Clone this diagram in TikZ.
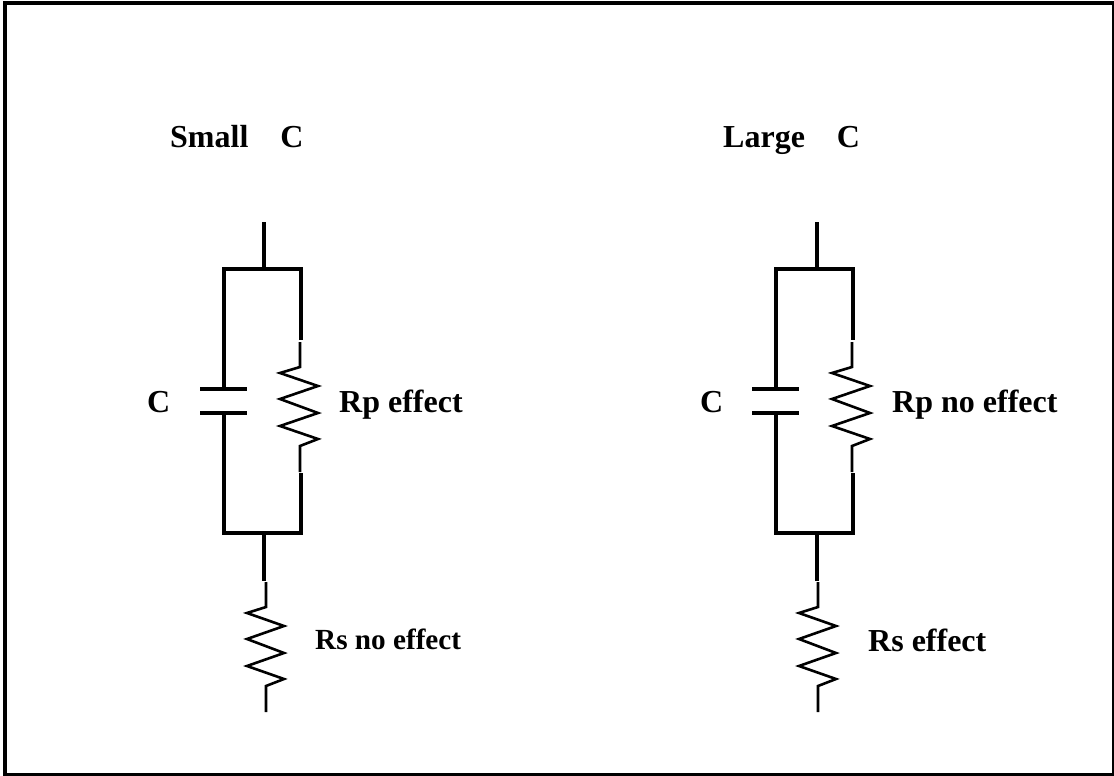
\documentclass[tikz,border=0pt]{standalone}
\usepackage{fontspec}
\setmainfont{Liberation Serif}
\tikzset{
  wire/.style={line width=3.4pt,line cap=butt,line join=miter},
  lead/.style={line width=2.6pt,line join=miter},
  tag/.style={anchor=base west,inner sep=0pt,font=\fontsize{32}{36}\selectfont\bfseries},
  smalltag/.style={tag,font=\fontsize{29.2}{34}\selectfont\bfseries}
}

\begin{document}
\begin{tikzpicture}[x=1pt,y=-1pt]
\useasboundingbox (0,0) rectangle (1114,776);
\draw[line width=3.4pt] (5,3) rectangle (1113.6,774.2);

\node[tag] (titleA) at (170,147) {Small~~~~C};
\node[tag] (capA) at (147,412) {C};
\node[tag] (rpA) at (339,412) {Rp effect};
\node[smalltag] (rsA) at (315,649) {Rs no effect};
\coordinate (inA) at (264,222);
\coordinate (topA) at (264,269);
\coordinate (tlA) at (224,269);
\coordinate (trA) at (301,269);
\coordinate (plateAa) at (224,389);
\coordinate (plateAb) at (224,413);
\coordinate (blA) at (224,533);
\coordinate (brA) at (301,533);
\coordinate (botA) at (264,533);
\coordinate (rpAa) at (301,340);
\coordinate (rpAb) at (301,473);
\coordinate (rsAa) at (264,581);
\draw[wire] (inA) -- (topA);
\draw[wire] (plateAa) -- (tlA) -- (trA) -- (rpAa);
\draw[wire] (plateAb) -- (blA) -- (brA) -- (rpAb);
\draw[wire] (botA) -- (rsAa);
\draw[wire] (200,389) -- (247,389);
\draw[wire] (200,413) -- (247,413);
\draw[lead] (300,342) -- (300,367) -- (280,373) -- (318,386) -- (280,399) -- (318,413) -- (280,426) -- (318,439) -- (300,446) -- (300,472);
\draw[lead] (266,582) -- (266,607) -- (247,613) -- (284,626) -- (247,639) -- (284,653) -- (247,666) -- (284,679) -- (266,686) -- (266,712);

\node[tag] (titleB) at (723,147) {Large~~~~C};
\node[tag] (capB) at (700,412) {C};
\node[tag] (rpB) at (892,412) {Rp no effect};
\node[tag] (rsB) at (868,651) {Rs effect};
\coordinate (inB) at (817,222);
\coordinate (topB) at (817,269);
\coordinate (tlB) at (776,269);
\coordinate (trB) at (853,269);
\coordinate (plateBa) at (776,389);
\coordinate (plateBb) at (776,413);
\coordinate (blB) at (776,533);
\coordinate (brB) at (853,533);
\coordinate (botB) at (817,533);
\coordinate (rpBa) at (853,340);
\coordinate (rpBb) at (853,473);
\coordinate (rsBa) at (817,581);
\draw[wire] (inB) -- (topB);
\draw[wire] (plateBa) -- (tlB) -- (trB) -- (rpBa);
\draw[wire] (plateBb) -- (blB) -- (brB) -- (rpBb);
\draw[wire] (botB) -- (rsBa);
\draw[wire] (752,389) -- (799,389);
\draw[wire] (752,413) -- (799,413);
\draw[lead] (852,342) -- (852,367) -- (832,373) -- (870,386) -- (832,399) -- (870,413) -- (832,426) -- (870,439) -- (852,446) -- (852,472);
\draw[lead] (818,582) -- (818,607) -- (799,613) -- (836,626) -- (799,639) -- (836,653) -- (799,666) -- (836,679) -- (818,686) -- (818,712);
\end{tikzpicture}
\end{document}
